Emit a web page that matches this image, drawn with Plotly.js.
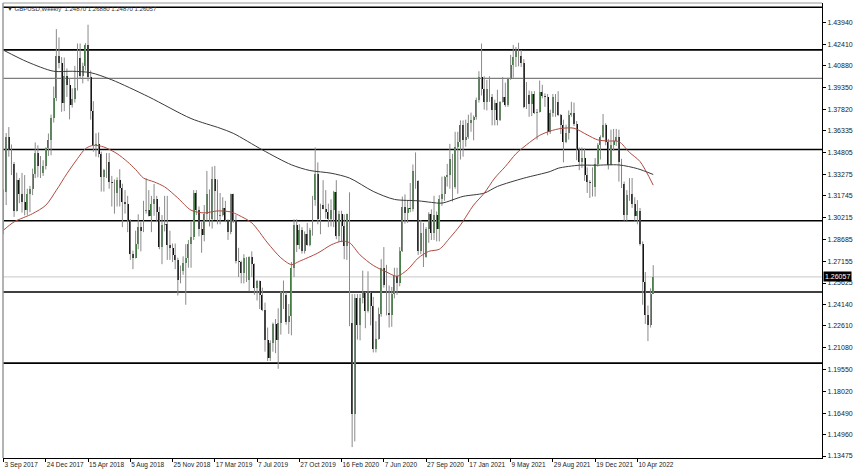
<!DOCTYPE html>
<html><head><meta charset="utf-8">
<script src="https://cdn.plot.ly/plotly-3.0.1.min.js"></script>
<style>html,body{margin:0;padding:0;background:#fff;}#chart{width:853px;height:475px;}</style>
</head><body><div id="chart"></div>
<script>
// Weekly bars, first bar = week of 3 Sep 2017
const firstWeek = [2017, 8, 3];

const opens = [
1.2925,1.3203,1.3590,1.3496,1.3398,1.3069,1.3285,1.3190,1.3135,1.3075,
1.3190,1.3225,1.3330,1.3475,1.3385,1.3335,1.3385,1.3510,1.3570,1.3720,
1.3860,1.4155,1.4110,1.3825,1.4015,1.3955,1.3815,1.3855,1.3935,1.4140,
1.4015,1.4090,1.4235,1.4010,1.3770,1.3530,1.3540,1.3470,1.3305,1.3355,
1.3415,1.3270,1.3265,1.3195,1.3285,1.3230,1.3130,1.3115,1.2995,1.2765,
1.2740,1.2840,1.2955,1.2925,1.3070,1.3075,1.3035,1.3120,1.3150,1.3060,
1.2815,1.2970,1.2975,1.2830,1.2810,1.2760,1.2725,1.2585,1.2645,1.2700,
1.2740,1.2840,1.2885,1.3195,1.3075,1.2940,1.2900,1.3050,1.3190,1.3010,
1.3290,1.3210,1.3035,1.3040,1.3090,1.2995,1.2920,1.3185,1.3005,1.2715,
1.2710,1.2630,1.2740,1.2585,1.2745,1.2695,1.2525,1.2575,1.2480,1.2375,
1.2165,1.2035,1.2140,1.2275,1.2160,1.2285,1.2500,1.2475,1.2290,1.2330,
1.2670,1.2970,1.2830,1.2935,1.2785,1.2905,1.2830,1.2935,1.3145,1.3325,
1.3010,1.3110,1.3085,1.3060,1.3010,1.3075,1.3205,1.2895,1.3050,1.2960,
1.2820,1.3045,1.2280,1.1645,1.2460,1.2265,1.2455,1.2495,1.2365,1.2490,
1.2400,1.2100,1.2170,1.2345,1.2665,1.2550,1.2350,1.2335,1.2485,1.2615,
1.2565,1.2790,1.3095,1.3055,1.3090,1.3085,1.3350,1.3280,1.2790,1.2915,
1.2745,1.2940,1.3045,1.2915,1.3040,1.2945,1.3150,1.3190,1.3310,1.3320,
1.3435,1.3235,1.3515,1.3555,1.3670,1.3565,1.3590,1.3685,1.3705,1.3730,
1.3850,1.4010,1.3925,1.3835,1.3925,1.3870,1.3780,1.3825,1.3710,1.3835,
1.3870,1.3815,1.3995,1.4095,1.4150,1.4190,1.4160,1.4110,1.3800,1.3880,
1.3820,1.3890,1.3760,1.3765,1.3905,1.3875,1.3870,1.3625,1.3755,1.3870,
1.3835,1.3740,1.3675,1.3550,1.3615,1.3745,1.3755,1.3680,1.3500,1.3415,
1.3440,1.3320,1.3270,1.3265,1.3235,1.3400,1.3530,1.3590,1.3675,1.3555,
1.3395,1.3530,1.3560,1.3590,1.3410,1.3255,1.3040,1.3180,1.3185,1.3115,
1.3035,1.3065,1.2835,1.2570,1.2335,1.2265,1.2487];

const highs = [
1.3222,1.3616,1.3658,1.3536,1.3413,1.3338,1.3300,1.3336,1.3321,1.3225,
1.3245,1.3366,1.3550,1.3530,1.3455,1.3425,1.3515,1.3613,1.3745,1.3943,
1.4346,1.4288,1.4150,1.4146,1.4070,1.4000,1.3930,1.4088,1.4245,1.4245,
1.4110,1.4248,1.4377,1.4055,1.3840,1.3615,1.3620,1.3485,1.3365,1.3475,
1.3475,1.3315,1.3290,1.3305,1.3362,1.3260,1.3215,1.3175,1.3010,1.2790,
1.2930,1.3045,1.2990,1.3140,1.3298,1.3215,1.3175,1.3258,1.3175,1.3098,
1.3040,1.3175,1.3175,1.2930,1.2840,1.2840,1.2740,1.2685,1.2750,1.2835,
1.2865,1.2995,1.3215,1.3215,1.3100,1.2990,1.3110,1.3350,1.3220,1.3380,
1.3385,1.3290,1.3195,1.3165,1.3140,1.3010,1.3190,1.3190,1.3040,1.2810,
1.2720,1.2765,1.2745,1.2750,1.2785,1.2700,1.2585,1.2580,1.2530,1.2425,
1.2250,1.2160,1.2285,1.2310,1.2385,1.2505,1.2580,1.2500,1.2415,1.2710,
1.3010,1.3010,1.2975,1.2955,1.2925,1.2985,1.2950,1.3175,1.3515,1.3410,
1.3120,1.3285,1.3215,1.3120,1.3150,1.3210,1.3285,1.3070,1.3070,1.3045,
1.3050,1.3200,1.2485,1.2485,1.2485,1.2485,1.2650,1.2500,1.2645,1.2500,
1.2465,1.2295,1.2390,1.2730,1.2815,1.2690,1.2545,1.2535,1.2670,1.2670,
1.2815,1.3170,1.3185,1.3145,1.3265,1.3395,1.3480,1.3285,1.3005,1.2985,
1.2955,1.3060,1.3080,1.3175,1.3065,1.3180,1.3310,1.3315,1.3400,1.3540,
1.3470,1.3625,1.3625,1.3705,1.3705,1.3710,1.3745,1.3760,1.3740,1.3865,
1.4050,1.4245,1.4015,1.3990,1.4015,1.3890,1.3850,1.3920,1.3840,1.4010,
1.3970,1.4005,1.4165,1.4235,1.4220,1.4250,1.4200,1.4135,1.3975,1.3915,
1.3910,1.3910,1.3785,1.3985,1.3955,1.3895,1.3890,1.3780,1.3890,1.3890,
1.3910,1.3750,1.3710,1.3675,1.3775,1.3835,1.3830,1.3700,1.3515,1.3515,
1.3510,1.3375,1.3285,1.3375,1.3440,1.3545,1.3600,1.3750,1.3685,1.3575,
1.3640,1.3645,1.3645,1.3640,1.3435,1.3275,1.3215,1.3300,1.3300,1.3165,
1.3145,1.3090,1.2855,1.2640,1.2405,1.2525,1.2688];

const lows = [
1.2905,1.3110,1.3450,1.3321,1.3027,1.3065,1.3123,1.3057,1.3038,1.3040,
1.3060,1.3180,1.3300,1.3305,1.3300,1.3315,1.3360,1.3455,1.3460,1.3690,
1.3840,1.4070,1.3765,1.3770,1.3870,1.3712,1.3795,1.3830,1.3915,1.4000,
1.3965,1.4055,1.3980,1.3710,1.3485,1.3450,1.3445,1.3205,1.3205,1.3300,
1.3225,1.3100,1.3050,1.3100,1.3100,1.2955,1.3050,1.2920,1.2725,1.2660,
1.2735,1.2800,1.2785,1.2920,1.3050,1.3030,1.2920,1.3035,1.2990,1.2800,
1.2695,1.2925,1.2725,1.2725,1.2710,1.2660,1.2475,1.2560,1.2620,1.2410,
1.2670,1.2670,1.2865,1.3040,1.2890,1.2775,1.2855,1.3000,1.2960,1.2945,
1.3005,1.2975,1.2975,1.3030,1.2990,1.2865,1.2905,1.2985,1.2700,1.2605,
1.2560,1.2560,1.2570,1.2505,1.2605,1.2480,1.2440,1.2380,1.2365,1.2080,
1.2015,1.2015,1.2080,1.2070,1.1960,1.2200,1.2380,1.2270,1.2205,1.2195,
1.2605,1.2780,1.2800,1.2770,1.2770,1.2825,1.2820,1.2895,1.3105,1.2975,
1.2905,1.3080,1.3015,1.2955,1.2960,1.2955,1.2870,1.2850,1.2850,1.2730,
1.2725,1.2260,1.1410,1.1450,1.2165,1.2160,1.2420,1.2245,1.2355,1.2265,
1.2075,1.2075,1.2165,1.2325,1.2530,1.2335,1.2250,1.2255,1.2455,1.2480,
1.2540,1.2780,1.2980,1.2985,1.3060,1.3065,1.3225,1.2760,1.2765,1.2675,
1.2740,1.2845,1.2865,1.2865,1.2855,1.2855,1.3105,1.3140,1.3240,1.3225,
1.3135,1.3225,1.3190,1.3430,1.3450,1.3520,1.3575,1.3625,1.3565,1.3710,
1.3830,1.3880,1.3780,1.3775,1.3835,1.3670,1.3670,1.3670,1.3700,1.3830,
1.3800,1.3800,1.3990,1.4005,1.4080,1.4085,1.4080,1.3790,1.3785,1.3730,
1.3735,1.3750,1.3570,1.3760,1.3860,1.3800,1.3600,1.3610,1.3730,1.3730,
1.3735,1.3610,1.3410,1.3545,1.3570,1.3730,1.3665,1.3425,1.3355,1.3370,
1.3280,1.3195,1.3160,1.3170,1.3170,1.3380,1.3430,1.3580,1.3530,1.3360,
1.3390,1.3490,1.3525,1.3275,1.3230,1.3000,1.3000,1.3140,1.3090,1.3000,
1.2975,1.2825,1.2410,1.2275,1.2155,1.2250,1.2487];

const closes = [
1.3203,1.3590,1.3496,1.3398,1.3069,1.3285,1.3190,1.3135,1.3075,1.3190,
1.3225,1.3330,1.3475,1.3385,1.3335,1.3385,1.3510,1.3570,1.3720,1.3860,
1.4155,1.4110,1.3825,1.4015,1.3955,1.3815,1.3855,1.3935,1.4140,1.4015,
1.4090,1.4235,1.4010,1.3770,1.3530,1.3540,1.3470,1.3305,1.3355,1.3415,
1.3270,1.3265,1.3195,1.3285,1.3230,1.3130,1.3115,1.2995,1.2765,1.2740,
1.2840,1.2955,1.2925,1.3070,1.3075,1.3035,1.3120,1.3150,1.3060,1.2815,
1.2970,1.2975,1.2830,1.2810,1.2760,1.2725,1.2585,1.2645,1.2700,1.2740,
1.2840,1.2885,1.3195,1.3075,1.2940,1.2900,1.3050,1.3190,1.3010,1.3290,
1.3210,1.3035,1.3040,1.3090,1.2995,1.2920,1.3185,1.3005,1.2715,1.2710,
1.2630,1.2740,1.2585,1.2745,1.2695,1.2525,1.2575,1.2480,1.2375,1.2165,
1.2035,1.2140,1.2275,1.2160,1.2285,1.2500,1.2475,1.2290,1.2330,1.2670,
1.2970,1.2830,1.2935,1.2785,1.2905,1.2830,1.2935,1.3145,1.3325,1.3010,
1.3110,1.3085,1.3060,1.3010,1.3075,1.3205,1.2895,1.3050,1.2960,1.2820,
1.3045,1.2280,1.1645,1.2460,1.2265,1.2455,1.2495,1.2365,1.2490,1.2400,
1.2100,1.2170,1.2345,1.2665,1.2550,1.2350,1.2335,1.2485,1.2615,1.2565,
1.2790,1.3095,1.3055,1.3090,1.3085,1.3350,1.3280,1.2790,1.2915,1.2745,
1.2940,1.3045,1.2915,1.3040,1.2945,1.3150,1.3190,1.3310,1.3320,1.3435,
1.3235,1.3515,1.3555,1.3670,1.3565,1.3590,1.3685,1.3705,1.3730,1.3850,
1.4010,1.3925,1.3835,1.3925,1.3870,1.3780,1.3825,1.3710,1.3835,1.3870,
1.3815,1.3995,1.4095,1.4150,1.4190,1.4160,1.4110,1.3800,1.3880,1.3820,
1.3890,1.3760,1.3765,1.3905,1.3875,1.3870,1.3625,1.3755,1.3870,1.3835,
1.3740,1.3675,1.3550,1.3615,1.3745,1.3755,1.3680,1.3500,1.3415,1.3440,
1.3320,1.3270,1.3265,1.3235,1.3400,1.3530,1.3590,1.3675,1.3555,1.3395,
1.3530,1.3560,1.3590,1.3410,1.3255,1.3040,1.3180,1.3185,1.3115,1.3035,
1.3065,1.2835,1.2570,1.2335,1.2265,1.2485,1.2606];

// Moving averages: bar index -> value
const redMaIdx = [0,4,11,16,20,24,28,31,34,38,43,47,50,53,57,61,66,71,76,81,86,89,94,100,105,109,112,119,124,128,131,135,140,145,149,153,157,161,165,169,173,178,182,186,190,194,198,203,207,211,216,221,225,229,233,237,241,246];
const redMaVal = [1.2934,1.2992,1.3050,1.3109,1.3214,1.3331,1.3436,1.3506,1.3530,1.3518,1.3471,1.3413,1.3360,1.3300,1.3273,1.3238,1.3160,1.3074,1.3055,1.3069,1.3062,1.3039,1.2985,1.2844,1.2740,1.2692,1.2715,1.2773,1.2830,1.2856,1.2846,1.2760,1.2686,1.2640,1.2610,1.2657,1.2738,1.2785,1.2800,1.2880,1.2970,1.3110,1.3194,1.3300,1.3381,1.3470,1.3533,1.3600,1.3630,1.3648,1.3650,1.3603,1.3568,1.3560,1.3556,1.3480,1.3416,1.3250];

const greyMaIdx = [0,9,19,26,33,41,55,71,82,87,98,109,116,124,131,140,148,157,162,166,174,182,187,197,207,210,218,224,233,240,246];
const greyMaVal = [1.4198,1.4116,1.4050,1.4050,1.4040,1.3990,1.3870,1.3718,1.3650,1.3614,1.3498,1.3393,1.3353,1.3334,1.3300,1.3206,1.3150,1.3140,1.3129,1.3124,1.3171,1.3194,1.3241,1.3299,1.3346,1.3369,1.3390,1.3390,1.3392,1.3366,1.3325];

const levels = [1.45, 1.42, 1.40, 1.35, 1.30, 1.25, 1.20];
const levelColors = ['#000','#000','#7d7d7d','#000','#000','#000','#000'];
const lastPrice = 1.26057;

const yTickVals = [1.43940,1.42410,1.40880,1.39350,1.37820,1.36335,1.34805,1.33275,1.31745,1.30215,1.28685,1.27155,1.25625,1.24140,1.22610,1.21080,1.19550,1.18020,1.16490,1.14960,1.13475];
const xTickDates = ['2017-09-03','2017-12-24','2018-04-15','2018-08-05','2018-11-25','2019-03-17','2019-07-07','2019-10-27','2020-02-16','2020-06-07','2020-09-27','2021-01-17','2021-05-09','2021-08-29','2021-12-19','2022-04-10'];
const xTickText = ['3 Sep 2017','24 Dec 2017','15 Apr 2018','5 Aug 2018','25 Nov 2018','17 Mar 2019','7 Jul 2019','27 Oct 2019','16 Feb 2020','7 Jun 2020','27 Sep 2020','17 Jan 2021','9 May 2021','29 Aug 2021','19 Dec 2021','10 Apr 2022'];
const headerText = '\u25BC GBPUSD,Weekly  1.24870 1.26880 1.24870 1.26057';

const WEEK = 7*86400000;
const t0 = Date.UTC(firstWeek[0], firstWeek[1], firstWeek[2]);
function wd(i){ return new Date(t0 + Math.round(i*WEEK)).toISOString().slice(0,19).replace('T',' '); }

const dates = closes.map((_, i) => wd(i));

// wicks
const wx = [], wy = [];
dates.forEach((d, i) => { wx.push(d, d, null); wy.push(lows[i], highs[i], null); });

const bodyBase = closes.map((c, i) => Math.min(c, opens[i]));
const bodyLen = closes.map((c, i) => Math.max(Math.abs(c - opens[i]), 0.0003));
const bodyCol = closes.map((c, i) => c >= opens[i] ? '#3b7d3b' : '#000000');

const traces = [
  {type:'scatter', mode:'lines', x:wx, y:wy, line:{color:'#8a8a8a', width:1}, hoverinfo:'skip', showlegend:false, connectgaps:false},
  {type:'bar', x:dates, y:bodyLen, base:bodyBase, width:0.72*WEEK, marker:{color:bodyCol, line:{width:0}}, showlegend:false},
  {type:'scatter', mode:'lines', x:greyMaIdx.map(wd), y:greyMaVal, line:{color:'#3a3a3a', width:1, shape:'spline', smoothing:0.8}, showlegend:false},
  {type:'scatter', mode:'lines', x:redMaIdx.map(wd), y:redMaVal, line:{color:'#b04a40', width:1, shape:'spline', smoothing:0.8}, showlegend:false}
];

const shapes = levels.map((v, k) => ({type:'line', xref:'paper', x0:0, x1:1, yref:'y', y0:v, y1:v, layer:'below',
  line:{color:levelColors[k], width: k===2 ? 1.2 : 1.6}}));
shapes.push({type:'line', xref:'paper', x0:0, x1:1, yref:'y', y0:lastPrice, y1:lastPrice, layer:'below', line:{color:'#c8c8c8', width:1}});
shapes.push({type:'line', xref:'paper', x0:0, x1:0, yref:'paper', y0:0, y1:1, line:{color:'#9a9a9a', width:1.5}});
shapes.push({type:'line', xref:'paper', x0:0, x1:1, yref:'paper', y0:1, y1:1, line:{color:'#9a9a9a', width:1}});

const layout = {
  width:853, height:475,
  margin:{l:3, r:31, t:3, b:17},
  paper_bgcolor:'#ffffff', plot_bgcolor:'#ffffff',
  showlegend:false, bargap:0,
  font:{family:'Liberation Sans, Arial, sans-serif', size:7, color:'#222'},
  xaxis:{type:'date', range:[wd(-0.2), wd(309.9)], showgrid:false, zeroline:false,
    showline:true, linecolor:'#000', linewidth:1, ticks:'outside', ticklen:3, tickcolor:'#000',
    tickvals:xTickDates, ticktext:xTickText, ticklabelposition:'outside right', tickangle:0,
    tickfont:{size:6.5, color:'#222'}, rangeslider:{visible:false}, fixedrange:true},
  yaxis:{side:'right', range:[1.13335, 1.45295], showgrid:false, zeroline:false,
    showline:true, linecolor:'#000', linewidth:1, ticks:'outside', ticklen:3, tickcolor:'#000',
    tickvals:yTickVals, ticktext:yTickVals.map(v => v.toFixed(5)), tickfont:{size:7, color:'#222'}, fixedrange:true},
  shapes:shapes,
  annotations:[
    {xref:'paper', yref:'y', x:1, y:lastPrice, xanchor:'left', yanchor:'middle', xshift:1, text:lastPrice.toFixed(5),
     showarrow:false, bgcolor:'#000', font:{color:'#fff', size:7}, borderpad:1},
    {xref:'paper', yref:'paper', x:0, y:1, xanchor:'left', yanchor:'top', xshift:2, yshift:-1, text:headerText,
     showarrow:false, font:{color:'#333', size:6}}
  ]
};

Plotly.newPlot('chart', traces, layout, {displayModeBar:false, staticPlot:true});
</script></body></html>
